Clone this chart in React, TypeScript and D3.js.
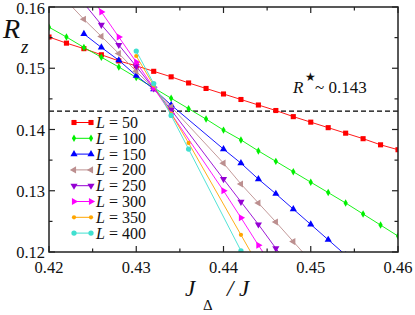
import React, { useEffect, useRef } from "react";
import * as d3 from "d3";

// J_delta / J values and R_z values for each system size L
const xL50 = [0.42, 0.422, 0.424, 0.426, 0.428, 0.43, 0.432, 0.434, 0.436, 0.438, 0.44, 0.442, 0.444, 0.446, 0.448, 0.45, 0.452, 0.454, 0.456, 0.458, 0.46];
const yL50 = [0.1551, 0.1541, 0.1532, 0.1522, 0.1512, 0.1504, 0.1495, 0.1486, 0.1476, 0.1467, 0.1458, 0.1449, 0.144, 0.1431, 0.1421, 0.1412, 0.1403, 0.1394, 0.1385, 0.1375, 0.1367];
const xL100 = [0.42, 0.422, 0.424, 0.426, 0.428, 0.43, 0.432, 0.434, 0.436, 0.438, 0.44, 0.442, 0.444, 0.446, 0.448, 0.45, 0.452, 0.454, 0.456, 0.458, 0.46];
const yL100 = [0.1567, 0.1551, 0.1534, 0.1518, 0.1502, 0.1485, 0.1468, 0.1451, 0.1434, 0.1417, 0.1399, 0.1383, 0.1365, 0.1348, 0.1331, 0.1314, 0.1297, 0.128, 0.1262, 0.1244, 0.1226];
const xL150 = [0.424, 0.426, 0.428, 0.43, 0.432, 0.434, 0.44, 0.442, 0.444, 0.446, 0.448, 0.45, 0.452, 0.454];
const yL150 = [0.1556, 0.1534, 0.1513, 0.1488, 0.1466, 0.144, 0.1368, 0.1345, 0.1319, 0.1295, 0.127, 0.1245, 0.122, 0.1195];
const xL200 = [0.422, 0.424, 0.426, 0.428, 0.43, 0.432, 0.434, 0.44, 0.442, 0.444, 0.446, 0.448, 0.45];
const yL200 = [0.161, 0.158, 0.1552, 0.1524, 0.1495, 0.1467, 0.1437, 0.1345, 0.1311, 0.128, 0.1249, 0.1217, 0.1185];
const xL250 = [0.424, 0.426, 0.428, 0.43, 0.432, 0.434, 0.44, 0.442, 0.444, 0.446, 0.448];
const yL250 = [0.1606, 0.1571, 0.1538, 0.1503, 0.1467, 0.1432, 0.1319, 0.1282, 0.1245, 0.1206, 0.1168];
const xL300 = [0.424, 0.426, 0.428, 0.43, 0.432, 0.434, 0.44, 0.442, 0.444, 0.446];
const yL300 = [0.1634, 0.1592, 0.1551, 0.151, 0.1468, 0.1426, 0.13, 0.1256, 0.1211, 0.1168];
const xL350 = [0.43, 0.432, 0.434, 0.436, 0.442, 0.448];
const yL350 = [0.152, 0.1472, 0.1426, 0.1378, 0.1228, 0.1078];
const xL400 = [0.43, 0.432, 0.434, 0.436, 0.442];
const yL400 = [0.1528, 0.1475, 0.1423, 0.1368, 0.1202];

const sizes = ["50", "100", "150", "200", "250", "300", "350", "400"];
const rStar = 0.143;

const xTicks = [0.42, 0.43, 0.44, 0.45, 0.46];
const xTickLabels = ["0.42", "0.43", "0.44", "0.45", "0.46"];
const yTicks = [0.12, 0.13, 0.14, 0.15, 0.16];
const yTickLabels = ["0.12", "0.13", "0.14", "0.15", "0.16"];
const xMinor = [0.425, 0.435, 0.445, 0.455];
const yMinor = [0.125, 0.135, 0.145, 0.155];

const App = () => {
  const svgRef = useRef(null);

  useEffect(() => {
    const svg = d3.select(svgRef.current);
    svg.selectAll("*").remove();

    const left = 49, right = 398, top = 7, bottom = 252;
    const x = d3.scaleLinear().domain([0.42, 0.46]).range([left, right]);
    const y = d3.scaleLinear().domain([0.12, 0.16]).range([bottom, top]);

    const series = [
      { xs: xL50, ys: yL50, color: "#ff0000", sym: d3.symbolSquare, size: 26, rot: 0 },
      { xs: xL100, ys: yL100, color: "#00f000", sym: d3.symbolDiamond, size: 16, rot: 0 },
      { xs: xL150, ys: yL150, color: "#0000ff", sym: d3.symbolTriangle, size: 22, rot: 0 },
      { xs: xL200, ys: yL200, color: "#bc8f8f", sym: d3.symbolTriangle, size: 22, rot: -90 },
      { xs: xL250, ys: yL250, color: "#9400d3", sym: d3.symbolTriangle, size: 22, rot: 180 },
      { xs: xL300, ys: yL300, color: "#ff00ff", sym: d3.symbolTriangle, size: 22, rot: 90 },
      { xs: xL350, ys: yL350, color: "#ffa500", sym: d3.symbolCircle, size: 14, rot: 0 },
      { xs: xL400, ys: yL400, color: "#40e0d0", sym: d3.symbolCircle, size: 22, rot: 0 },
    ];

    svg
      .append("defs")
      .append("clipPath")
      .attr("id", "plotclip")
      .append("rect")
      .attr("x", left)
      .attr("y", top)
      .attr("width", right - left)
      .attr("height", bottom - top);

    // dashed R* line
    svg
      .append("line")
      .attr("x1", left)
      .attr("x2", right)
      .attr("y1", y(rStar))
      .attr("y2", y(rStar))
      .attr("stroke", "black")
      .attr("stroke-width", 1.3)
      .attr("stroke-dasharray", "5,3");

    // data lines and markers
    const plot = svg.append("g").attr("clip-path", "url(#plotclip)");
    const line = d3.line().x((d) => x(d[0])).y((d) => y(d[1]));
    series.forEach((s) => {
      const pts = s.xs.map((v, i) => [v, s.ys[i]]);
      plot
        .append("path")
        .attr("d", line(pts))
        .attr("fill", "none")
        .attr("stroke", s.color)
        .attr("stroke-width", 0.9);
      plot
        .selectAll(null)
        .data(pts)
        .enter()
        .append("path")
        .attr("d", d3.symbol().type(s.sym).size(s.size)())
        .attr("transform", (d) => `translate(${x(d[0])},${y(d[1])}) rotate(${s.rot})`)
        .attr("fill", s.color);
    });

    // frame
    svg
      .append("rect")
      .attr("x", left)
      .attr("y", top)
      .attr("width", right - left)
      .attr("height", bottom - top)
      .attr("fill", "none")
      .attr("stroke", "#222")
      .attr("stroke-width", 1.5);

    // ticks on all four sides, pointing inward
    const tk = svg.append("g").attr("stroke", "#222").attr("stroke-width", 1.2);
    const xt = xTicks.map((v) => [v, 6]).concat(xMinor.map((v) => [v, 3.5]));
    const yt = yTicks.map((v) => [v, 6]).concat(yMinor.map((v) => [v, 3.5]));
    xt.forEach(([v, len]) => {
      tk.append("line").attr("x1", x(v)).attr("x2", x(v)).attr("y1", bottom).attr("y2", bottom - len);
      tk.append("line").attr("x1", x(v)).attr("x2", x(v)).attr("y1", top).attr("y2", top + len);
    });
    yt.forEach(([v, len]) => {
      tk.append("line").attr("x1", left).attr("x2", left + len).attr("y1", y(v)).attr("y2", y(v));
      tk.append("line").attr("x1", right).attr("x2", right - len).attr("y1", y(v)).attr("y2", y(v));
    });

    const texts = svg
      .append("g")
      .style("font-family", "'Liberation Serif', 'Times New Roman', 'DejaVu Serif', serif")
      .attr("fill", "#111");

    // tick labels
    texts
      .selectAll(".xl")
      .data(xTicks)
      .enter()
      .append("text")
      .attr("x", (d) => x(d))
      .attr("y", bottom + 21)
      .attr("text-anchor", "middle")
      .attr("font-size", 16.5)
      .text((d, i) => xTickLabels[i]);
    texts
      .selectAll(".yl")
      .data(yTicks)
      .enter()
      .append("text")
      .attr("x", left - 4)
      .attr("y", (d) => Math.max(y(d) + 6, 14))
      .attr("text-anchor", "end")
      .attr("font-size", 16.5)
      .text((d, i) => yTickLabels[i]);

    // axis titles
    const yt1 = texts.append("text").attr("font-style", "italic");
    yt1.append("tspan").attr("x", 3).attr("y", 38).attr("font-size", 28).text("R");
    yt1.append("tspan").attr("x", 21).attr("y", 53).attr("font-size", 19).text("z");

    const xt1 = texts.append("text").attr("font-style", "italic");
    xt1.append("tspan").attr("x", 185).attr("y", 296).attr("font-size", 23).text("J");
    xt1.append("tspan").attr("x", 203).attr("y", 310).attr("font-size", 15).attr("font-style", "normal").text("Δ");
    xt1.append("tspan").attr("x", 227).attr("y", 296).attr("font-size", 23).text("/");
    xt1.append("tspan").attr("x", 239).attr("y", 296).attr("font-size", 23).text("J");

    // R* annotation
    const ann = texts.append("text").attr("font-size", 17);
    ann.append("tspan").attr("x", 293).attr("y", 93).attr("font-style", "italic").text("R");
    ann.append("tspan").attr("x", 305).attr("y", 81).attr("font-size", 12).text("★");
    ann.append("tspan").attr("x", 315).attr("y", 93).text("~ 0.143");

    // legend
    const lg = svg.append("g");
    series.forEach((s, i) => {
      const yy = 122.5 + i * 15.8;
      lg.append("line")
        .attr("x1", 74)
        .attr("x2", 91)
        .attr("y1", yy)
        .attr("y2", yy)
        .attr("stroke", s.color)
        .attr("stroke-width", 1);
      [74, 91].forEach((xx) => {
        lg.append("path")
          .attr("d", d3.symbol().type(s.sym).size(s.size)())
          .attr("transform", `translate(${xx},${yy}) rotate(${s.rot})`)
          .attr("fill", s.color);
      });
      const t = texts
        .append("text")
        .attr("x", 96)
        .attr("y", yy + 5.5)
        .attr("font-size", 16);
      t.append("tspan").attr("font-style", "italic").text("L");
      t.append("tspan").text(" = " + sizes[i]);
    });
  }, []);

  return (
    <svg
      ref={svgRef}
      width={415}
      height={315}
      style={{ position: "absolute", left: 0, top: 0, background: "white" }}
    ></svg>
  );
};

export default App;
